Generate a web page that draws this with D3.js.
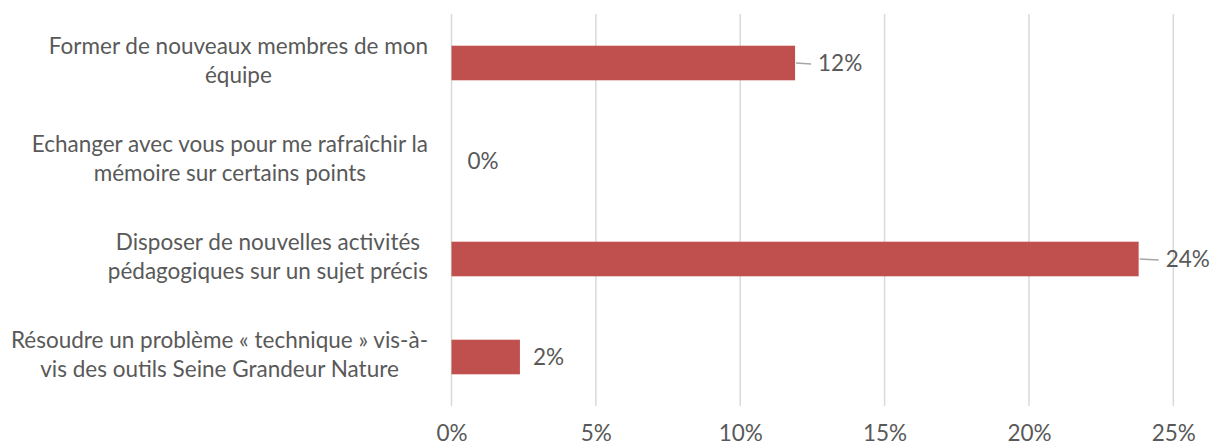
<!DOCTYPE html>
<html>
<head>
  <meta charset="utf-8">
  <title>Bar chart</title>
  <style>
    body { margin: 0; background: #fff; }
    text { font-family: Lato, "Open Sans", sans-serif; fill: #595959; }
  </style>
</head>
<body>
  <svg id="chart"></svg>

  <script src="https://d3js.org/d3.v7.min.js"></script>
  <script>
    // Données
    const categories = [
      ["Former de nouveaux membres de mon", "équipe"],
      ["Echanger avec vous pour me rafraîchir la", "mémoire sur certains points"],
      ["Disposer de nouvelles activités", "pédagogiques sur un sujet précis"],
      ["Résoudre un problème « technique » vis-à-", "vis des outils Seine Grandeur Nature"]
    ];
    const values = [0.119, 0, 0.238, 0.0237];
    const valueLabels = ["12%", "0%", "24%", "2%"];
    const ticks = [0, 0.05, 0.10, 0.15, 0.20, 0.25];

    // décalage des étiquettes (déplacées à la main dans l'original)
    const labelDx = [23, 16, 27, 13];

    const width = 1211;
    const height = 446;
    const fontSize = 22.5;

    const svg = d3.select("#chart")
      .attr("width", width)
      .attr("height", height);

    const x = d3.scaleLinear()
      .domain([0, 0.25])
      .range([451.5, 1173.3]);

    const y = d3.scaleBand()
      .domain(d3.range(categories.length))
      .range([14, 406])
      .paddingInner(0.647)
      .paddingOuter(0.3235);

    // Grille verticale
    svg.append("g")
      .selectAll("line")
      .data(ticks)
      .enter().append("line")
      .attr("x1", d => x(d))
      .attr("x2", d => x(d))
      .attr("y1", 14)
      .attr("y2", 406)
      .attr("stroke", "#d9d9d9")
      .attr("stroke-width", 1.5);

    // Axe X (étiquettes seulement)
    const xAxis = svg.append("g")
      .attr("transform", "translate(0,428)")
      .call(d3.axisBottom(x).tickValues(ticks).tickFormat(d3.format(".0%")).tickSize(0));
    xAxis.select(".domain").remove();
    xAxis.selectAll("text")
      .attr("dy", 0)
      .attr("y", 13)
      .style("font-size", fontSize + "px")
      .style("font-family", "Lato, sans-serif")
      .attr("fill", "#595959");

    // Barres
    svg.append("g")
      .selectAll("rect")
      .data(values)
      .enter().append("rect")
      .attr("x", x(0))
      .attr("y", (d, i) => y(i))
      .attr("width", d => x(d) - x(0))
      .attr("height", y.bandwidth())
      .attr("fill", "#c0504d");

    // Lignes de rappel
    svg.append("g")
      .selectAll("line")
      .data(values.map((v, i) => ({ v, i })).filter(d => labelDx[d.i] > 20))
      .enter().append("line")
      .attr("x1", d => x(d.v) + 1)
      .attr("x2", d => x(d.v) + labelDx[d.i] - 7)
      .attr("y1", d => y(d.i) + y.bandwidth() / 2)
      .attr("y2", d => y(d.i) + y.bandwidth() / 2 + 1)
      .attr("stroke", "#a6a6a6")
      .attr("stroke-width", 1.5);

    // Étiquettes de valeur
    svg.append("g")
      .selectAll("text")
      .data(values)
      .enter().append("text")
      .attr("x", (d, i) => x(d) + labelDx[i])
      .attr("y", (d, i) => y(i) + y.bandwidth() / 2 + 2)
      .attr("dominant-baseline", "middle")
      .style("font-size", fontSize + "px")
      .text((d, i) => valueLabels[i]);

    // Libellés des catégories (bloc aligné à droite, lignes centrées)
    const labelRight = 428;
    const lineH = 29;
    categories.forEach((lines, i) => {
      const g = svg.append("g");
      const texts = g.selectAll("text")
        .data(lines)
        .enter().append("text")
        .attr("text-anchor", "middle")
        .attr("dominant-baseline", "middle")
        .style("font-size", fontSize + "px")
        .attr("y", (d, j) => y(i) + y.bandwidth() / 2 + (j - (lines.length - 1) / 2) * lineH)
        .text(d => d);
      let maxW = 0;
      texts.each(function () { maxW = Math.max(maxW, this.getComputedTextLength()); });
      texts.attr("x", labelRight - maxW / 2);
    });
  </script>
</body>
</html>
